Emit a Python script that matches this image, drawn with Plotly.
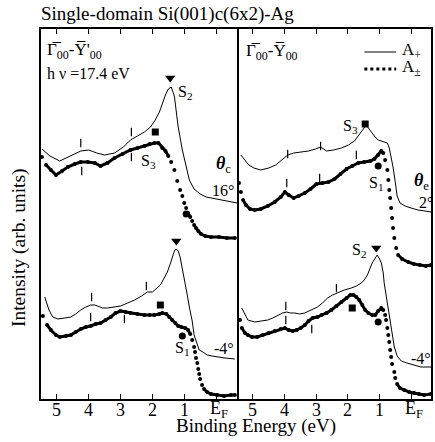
import plotly.graph_objects as go

# ---------------- data (binding energy in eV, intensity in arb. units) ----------------
# Left panel (Gamma00 - Y'00)
L16_thin_x = [5.47,5.22,4.91,4.59,4.25,4.0,3.75,3.5,3.19,2.91,2.69,2.47,2.25,2.06,1.91,1.78,1.69,1.59,1.5,1.41,1.31,1.25,1.19,1.06,0.97,0.84,0.69,0.5,0.31,0.0,-0.41,-0.66]
L16_thin_y = [25.0,24.3,23.8,24.3,24.8,24.9,24.6,24.4,24.6,25.2,25.9,26.3,26.7,27.2,27.9,28.7,29.6,30.4,31.0,31.2,30.3,28.9,27.2,24.9,23.6,21.9,21.0,20.5,20.2,20.0,19.8,19.6]

L16_thick_x = [5.47,5.34,5.19,5.03,4.84,4.66,4.44,4.25,4.03,3.81,3.63,3.41,3.19,2.94,2.69,2.47,2.25,2.09,1.94,1.81,1.69,1.59,1.5,1.41,1.31,1.22,1.13,1.06,1.0,0.94,0.88,0.81,0.75,0.69,0.63,0.56,0.47,0.34,0.16,-0.09,-0.34,-0.59]
L16_thick_y = [24.2,23.4,22.9,22.4,22.8,23.2,23.5,23.7,23.7,23.6,23.3,23.6,24.1,24.5,24.9,25.1,25.3,25.5,25.6,25.6,25.1,24.8,24.3,23.7,22.9,21.8,20.9,20.3,19.6,19.1,18.6,18.2,17.8,17.4,17.1,16.8,16.5,16.3,16.2,16.2,16.1,16.1]

Lm4_thin_x = [5.38,5.25,5.13,4.97,4.75,4.56,4.41,4.25,4.09,3.94,3.81,3.72,3.56,3.41,3.19,3.0,2.78,2.56,2.34,2.16,2.0,1.88,1.75,1.63,1.53,1.44,1.38,1.31,1.25,1.19,1.13,1.06,1.0,0.91,0.84,0.75,0.69,0.59,0.53,0.41,0.28,0.13,-0.03,-0.28,-0.59]
Lm4_thin_y = [10.2,8.9,8.2,8.0,8.1,8.2,8.5,8.9,9.2,9.4,9.4,9.3,9.1,9.1,9.2,9.3,9.6,9.9,10.3,10.7,10.7,11.0,11.4,12.1,12.7,13.5,14.2,14.8,15.0,14.8,14.2,13.1,11.9,10.5,9.2,7.8,6.4,5.4,4.9,4.7,4.4,4.3,4.2,4.1,4.0]

Lm4_thick_x = [5.44,5.31,5.19,5.03,4.91,4.72,4.56,4.41,4.25,4.09,3.94,3.78,3.63,3.47,3.31,3.16,3.0,2.84,2.69,2.47,2.25,2.09,1.94,1.78,1.69,1.56,1.47,1.38,1.28,1.19,1.09,0.97,0.88,0.81,0.75,0.69,0.66,0.63,0.59,0.56,0.53,0.5,0.44,0.38,0.28,0.16,-0.03,-0.25,-0.47,-0.59]
Lm4_thick_y = [8.3,7.4,6.9,6.4,6.2,6.3,6.4,6.7,7.0,7.2,7.3,7.5,7.6,7.9,8.2,8.6,8.8,8.7,8.6,8.5,8.4,8.4,8.4,8.5,8.6,8.5,8.2,7.9,7.6,7.3,7.2,7.1,6.9,6.5,5.9,5.2,4.7,4.1,3.6,3.0,2.5,2.0,1.4,1.0,0.7,0.5,0.4,0.3,0.4,0.4]

# Right panel (Gamma00 - Y00)
R2_thin_x = [5.38,5.25,5.13,4.97,4.75,4.5,4.28,4.09,3.9,3.71,3.49,3.24,3.02,2.86,2.67,2.45,2.2,1.98,1.79,1.64,1.51,1.42,1.29,1.16,1.04,0.88,0.75,0.69,0.63,0.57,0.5,0.44,0.35,0.19,0.0,-0.22,-0.44,-0.63]
R2_thin_y = [24.4,23.9,23.4,23.1,22.9,23.1,23.4,23.9,24.4,24.6,24.7,24.8,25.0,25.2,24.8,24.9,25.1,25.4,25.8,26.4,27.0,27.4,26.8,26.3,25.9,25.7,25.6,25.1,24.3,23.2,21.7,20.3,19.6,19.3,19.1,18.9,18.8,18.7]

R2_thick_x = [5.44,5.38,5.31,5.22,5.09,4.94,4.75,4.53,4.31,4.12,3.99,3.87,3.71,3.55,3.36,3.18,2.99,2.8,2.61,2.42,2.23,2.04,1.86,1.67,1.48,1.29,1.16,1.04,0.94,0.88,0.82,0.75,0.72,0.69,0.66,0.63,0.6,0.57,0.53,0.47,0.41,0.28,0.09,-0.09,-0.28,-0.47,-0.63]
R2_thick_y = [21.6,20.7,19.9,19.4,19.0,18.9,19.0,19.3,19.7,20.2,20.7,20.4,20.1,20.3,20.6,21.0,21.5,21.6,21.7,22.0,22.5,23.0,23.3,23.6,23.7,23.8,24.0,24.4,24.8,24.6,23.9,22.9,21.9,20.9,20.1,19.1,18.1,17.1,16.1,15.1,14.4,14.0,13.7,13.5,13.4,13.3,13.4]

Rm4_thin_x = [5.35,5.25,5.16,4.94,4.72,4.53,4.37,4.21,4.06,3.93,3.81,3.68,3.52,3.36,3.18,2.96,2.8,2.64,2.48,2.33,2.11,1.89,1.73,1.57,1.48,1.38,1.29,1.23,1.13,1.07,1.01,0.94,0.88,0.85,0.79,0.75,0.69,0.63,0.57,0.53,0.44,0.31,0.13,-0.09,-0.31,-0.63]
Rm4_thin_y = [9.1,8.4,7.9,7.7,7.8,7.9,8.1,8.4,8.6,8.7,8.6,8.6,8.5,8.6,8.9,9.2,9.6,10.1,10.4,10.6,10.9,11.1,11.3,11.6,11.9,12.4,13.1,13.6,14.1,14.4,14.1,13.6,12.6,11.6,10.4,9.6,8.4,7.2,6.0,5.2,4.3,3.8,3.6,3.4,3.2,3.2]

Rm4_thick_x = [5.41,5.35,5.25,5.16,5.03,4.87,4.69,4.5,4.31,4.12,3.99,3.87,3.74,3.62,3.49,3.36,3.24,3.11,2.96,2.83,2.67,2.52,2.36,2.2,2.04,1.92,1.82,1.73,1.64,1.54,1.45,1.35,1.23,1.13,1.04,0.94,0.88,0.82,0.79,0.75,0.72,0.69,0.66,0.63,0.6,0.53,0.5,0.44,0.35,0.22,0.06,-0.09,-0.25,-0.41,-0.63]
Rm4_thick_y = [7.9,7.1,6.6,6.4,6.2,6.2,6.4,6.6,6.8,7.0,7.1,6.9,6.8,6.9,7.1,7.4,7.8,8.1,8.2,8.4,8.6,8.9,9.3,9.7,10.1,10.4,10.4,10.2,9.9,9.4,8.9,8.6,8.4,8.4,8.8,9.1,8.9,8.4,7.9,7.1,6.4,5.7,4.9,4.2,3.5,2.7,2.1,1.5,1.1,0.9,0.7,0.6,0.5,0.4,0.5]

# Feature markers: (energy, intensity)
L_tri = ([1.44, 1.25], [32.1, 15.8])
L_sq = ([1.91, 1.75], [26.7, 9.4])
L_circ = ([0.94, 1.06], [18.5, 6.3])
R_tri = ([1.10], [15.1])
R_sq = ([1.45, 1.86], [27.5, 9.1])
R_circ = ([1.04, 1.04], [23.3, 7.7])

# small vertical tick marks on spectra
L_bars = ([4.25, 2.66, 4.22, 2.66, 3.91, 2.19, 3.94, 2.88], [25.6, 26.7, 22.8, 24.2, 10.2, 11.3, 8.2, 8.0])
R_bars = ([3.90, 2.86, 3.93, 2.89, 1.73, 3.96, 2.36, 3.96, 3.14], [24.5, 25.3, 21.6, 22.1, 24.4, 9.3, 11.1, 7.9, 7.0])

tick_vals = [5, 4, 3, 2, 1, 0]
tick_text = ["5", "4", "3", "2", "1", "E<sub>F</sub>"]

# ---------------- figure ----------------
FONT = "Liberation Serif"
W, H = 435, 442
ML, MR, MT, MB = 41, 2, 29, 43
PW, PH = W - ML - MR, H - MT - MB
SPLIT = (240 - ML) / PW


def P(x, y):
    return (x - ML) / PW, (H - MB - y) / PH


def broken(x, y, thr=6.0):
    xs, ys = [x[0]], [y[0]]
    for i in range(1, len(x)):
        s = abs((y[i] - y[i - 1]) / (x[i] - x[i - 1]))
        if s > thr:
            xs.append(None)
            ys.append(None)
        xs.append(x[i])
        ys.append(y[i])
    return xs, ys


fig = go.Figure()


def add_thin(x, y, xa, ya):
    fig.add_trace(go.Scatter(x=x, y=y, mode="lines", line=dict(color="black", width=1),
                             xaxis=xa, yaxis=ya, hoverinfo="skip"))


def add_thick(x, y, xa, ya):
    bx, by = broken(x, y)
    fig.add_trace(go.Scatter(x=bx, y=by, mode="lines", line=dict(color="black", width=3),
                             connectgaps=False, xaxis=xa, yaxis=ya, hoverinfo="skip"))
    fig.add_trace(go.Scatter(x=x, y=y, mode="markers", marker=dict(color="black", size=4),
                             xaxis=xa, yaxis=ya, hoverinfo="skip"))


def add_marks(pts, symbol, size, xa, ya, lw=0):
    fig.add_trace(go.Scatter(x=pts[0], y=pts[1], mode="markers",
                             marker=dict(symbol=symbol, size=size, color="black",
                                         line=dict(color="black", width=lw)),
                             xaxis=xa, yaxis=ya, hoverinfo="skip"))


add_thin(L16_thin_x, L16_thin_y, "x", "y")
add_thick(L16_thick_x, L16_thick_y, "x", "y")
add_thin(Lm4_thin_x, Lm4_thin_y, "x", "y")
add_thick(Lm4_thick_x, Lm4_thick_y, "x", "y")
add_thin(R2_thin_x, R2_thin_y, "x2", "y2")
add_thick(R2_thick_x, R2_thick_y, "x2", "y2")
add_thin(Rm4_thin_x, Rm4_thin_y, "x2", "y2")
add_thick(Rm4_thick_x, Rm4_thick_y, "x2", "y2")

add_marks(L_tri, "triangle-down", 9, "x", "y")
add_marks(L_sq, "square", 7, "x", "y")
add_marks(L_circ, "circle", 7, "x", "y")
add_marks(R_tri, "triangle-down", 9, "x2", "y2")
add_marks(R_sq, "square", 7, "x2", "y2")
add_marks(R_circ, "circle", 7, "x2", "y2")
add_marks(L_bars, "line-ns", 6, "x", "y", lw=1.2)
add_marks(R_bars, "line-ns", 6, "x2", "y2", lw=1.2)

xcommon = dict(tickvals=tick_vals, ticks="inside", ticklen=5, tickwidth=1.2,
               tickcolor="black", showline=True, linecolor="black", linewidth=1.5, mirror="ticks",
               showgrid=False, zeroline=False, showticklabels=False)
ycommon = dict(range=[0, 37.0], showline=True, linecolor="black", linewidth=1.5,
               showgrid=False, zeroline=False, showticklabels=False, ticks="")

fig.update_layout(
    width=W, height=H, margin=dict(l=ML, r=MR, t=MT, b=MB),
    paper_bgcolor="white", plot_bgcolor="white", showlegend=False,
    xaxis=dict(domain=[0, SPLIT], range=[5.5, -0.72], anchor="y", **xcommon),
    xaxis2=dict(domain=[SPLIT, 1], range=[5.44, -0.63], anchor="y2", **xcommon),
    yaxis=dict(domain=[0, 1], anchor="x", mirror=False, **ycommon),
    yaxis2=dict(domain=[0, 1], anchor="x2", mirror=True, **ycommon),
)

ann = []


def T(text, x, y, size=16, xanchor="center", angle=0):
    px, py = P(x, y)
    ann.append(dict(text=text, x=px, y=py, xref="paper", yref="paper", showarrow=False,
                    xanchor=xanchor, yanchor="middle", textangle=angle,
                    font=dict(family=FONT, size=size, color="black")))


# tick labels placed on the axes' own scales
_, ty = P(0, 410)
for xa in ("x", "x2"):
    for v, t in zip(tick_vals, tick_text):
        ann.append(dict(text=t, x=v, y=ty, xref=xa, yref="paper", showarrow=False,
                        xanchor="center", yanchor="middle", xshift=3 if v == 0 else 0,
                        font=dict(family=FONT, size=18, color="black")))

T("Single-domain Si(001)c(6x2)-Ag", 39, 14, 19, "left")
T("\u0393\u0305<sub>00</sub>-Y\u0305'<sub>00</sub>", 45, 51, 17, "left")
T("h \u03bd =17.4 eV", 45, 73, 16, "left")
T("\u0393\u0305<sub>00</sub>-Y\u0305<sub>00</sub>", 245, 52, 17, "left")
T("A<sub>+</sub>", 402, 51, 17, "left")
T("A<sub>\u00b1</sub>", 402, 68, 17, "left")
T("S<sub>2</sub>", 186, 92, 16)
T("S<sub>3</sub>", 149, 161, 16)
T("<b><i>\u03b8</i></b><sub>c</sub>", 224, 164, 18)
T("16\u00b0", 224, 190, 16)
T("S<sub>1</sub>", 183, 348, 16)
T("-4\u00b0", 225, 348, 16)
T("S<sub>3</sub>", 352, 127, 16)
T("S<sub>1</sub>", 378, 183, 16)
T("<b><i>\u03b8</i></b><sub>e</sub>", 423, 181, 18)
T("2\u00b0", 428, 202, 16)
T("S<sub>2</sub>", 361, 250, 16)
T("-4\u00b0", 423, 358, 16)
T("Intensity (arb. units)", 19, 248, 19.5, angle=-90)
T("Binding Energy (eV)", 257, 426, 19)
fig.update_layout(annotations=ann)

# legend sample lines
x0, y0 = P(366, 52)
x1, _ = P(398, 52)
_, y1 = P(366, 69)
fig.add_shape(type="line", xref="paper", yref="paper", x0=x0, x1=x1, y0=y0, y1=y0,
              line=dict(color="black", width=1))
fig.add_shape(type="line", xref="paper", yref="paper", x0=x0, x1=x1, y0=y1, y1=y1,
              line=dict(color="black", width=3, dash="dot"))

fig.write_html("out.html", config={"displayModeBar": False},
               post_script="document.body.style.margin='0';document.body.style.overflow='hidden';")
